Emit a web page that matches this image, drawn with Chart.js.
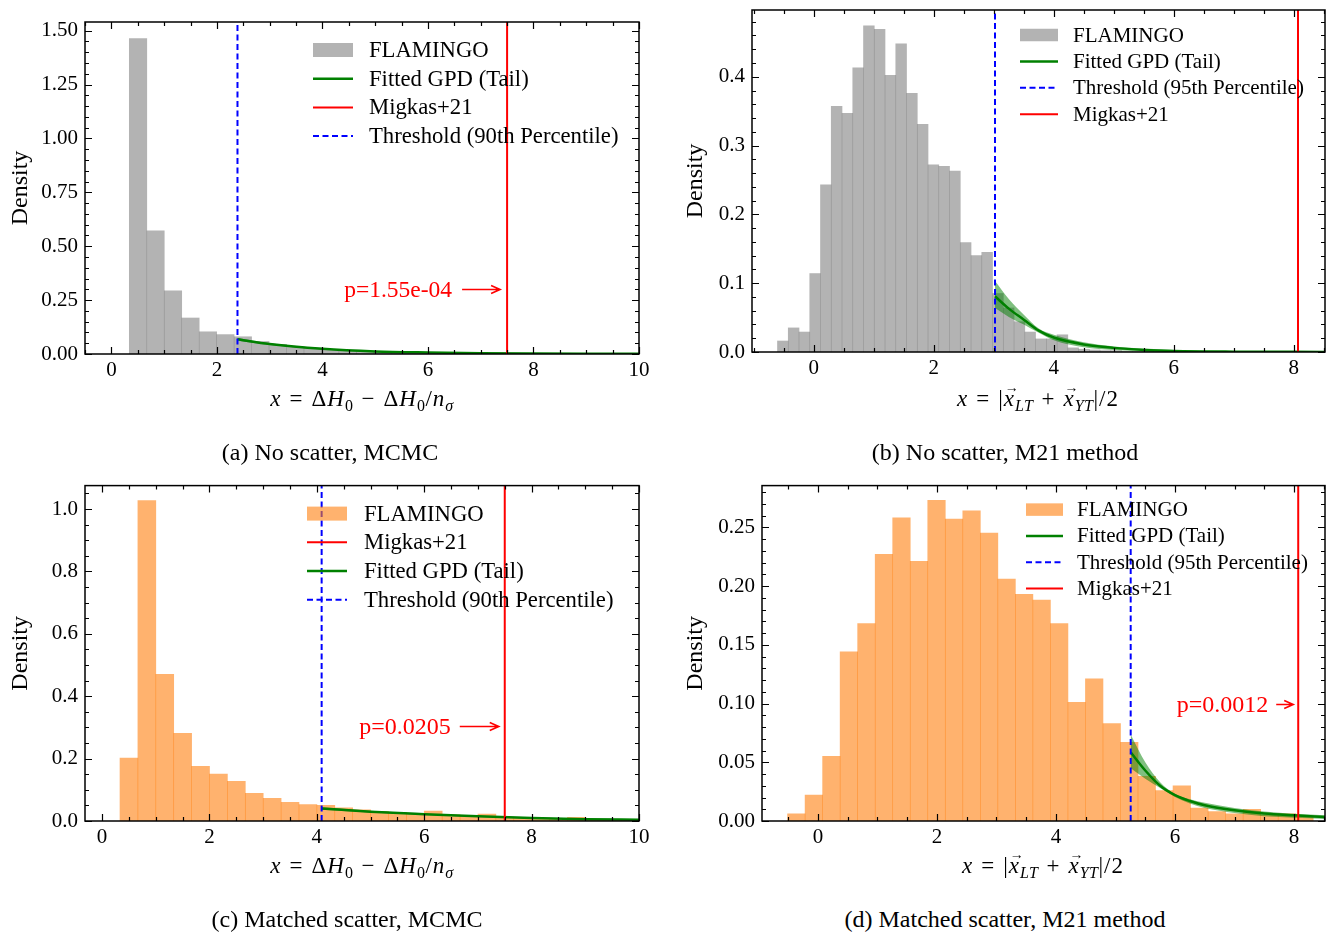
<!DOCTYPE html>
<html>
<head>
<meta charset="utf-8">
<script src="https://cdn.jsdelivr.net/npm/chart.js@4"></script>
<style>
  body { margin: 0; background: #fff; width: 1328px; height: 933px; position: relative; overflow: hidden;
         font-family: "Liberation Serif", serif; color: #000; }
  canvas { position: absolute; }
  .xt { position: absolute; font-size: 23px; line-height: 26px; transform: translateX(-50%); white-space: nowrap; letter-spacing: 1px; }
  .xt sub { font-size: 16px; vertical-align: -5px; letter-spacing: 0.5px; }
  .op { margin: 0 8px; }
  .cap { position: absolute; font-size: 24px; line-height: 26px; transform: translateX(-50%); white-space: nowrap; }
  .vec { position: relative; display: inline-block; }
  .vec::after { content: "\2192"; position: absolute; left: 1px; top: -11px; font-size: 14px; font-style: normal; }
</style>
</head>
<body>
<canvas id="chartA" width="660" height="420" style="left:0;top:0"></canvas>
<canvas id="chartB" width="660" height="432" style="left:668px;top:-12px"></canvas>
<canvas id="chartC" width="660" height="420" style="left:0;top:466px"></canvas>
<canvas id="chartD" width="660" height="420" style="left:668px;top:466px"></canvas>

<div class="xt" style="left:362px;top:386px"><i>x</i><span class="op">=</span>Δ<i>H</i><sub>0</sub><span class="op">−</span>Δ<i>H</i><sub>0</sub>/<i>n</i><sub><i>σ</i></sub></div>
<div class="xt" style="left:1038px;top:386px"><i>x</i><span class="op">=</span>|<span class="vec"><i>x</i></span><sub><i>LT</i></sub><span class="op">+</span><span class="vec"><i>x</i></span><sub><i>YT</i></sub>|/2</div>
<div class="xt" style="left:362px;top:853px"><i>x</i><span class="op">=</span>Δ<i>H</i><sub>0</sub><span class="op">−</span>Δ<i>H</i><sub>0</sub>/<i>n</i><sub><i>σ</i></sub></div>
<div class="xt" style="left:1043px;top:853px"><i>x</i><span class="op">=</span>|<span class="vec"><i>x</i></span><sub><i>LT</i></sub><span class="op">+</span><span class="vec"><i>x</i></span><sub><i>YT</i></sub>|/2</div>

<div class="cap" style="left:330px;top:439px">(a) No scatter, MCMC</div>
<div class="cap" style="left:1005px;top:439px">(b) No scatter, M21 method</div>
<div class="cap" style="left:347px;top:906px">(c) Matched scatter, MCMC</div>
<div class="cap" style="left:1005px;top:906px">(d) Matched scatter, M21 method</div>

<script>
// (a) No scatter, MCMC
var binStartA = 0.34, binWidthA = 0.331;
var densityA = [1.463, 0.571, 0.293, 0.167, 0.103, 0.090, 0.080, 0.058, 0.045, 0.033, 0.027, 0.021, 0.017, 0.014, 0.011,
                0.009, 0.007, 0.006, 0.005, 0.004, 0.003, 0.003, 0.002, 0.002, 0.001, 0.001, 0.001, 0.001, 0.001];
var gpdXA  = [2.39, 3, 4, 5, 6, 7, 8, 9, 10];
var gpdYA  = [0.068, 0.046, 0.024, 0.012, 0.007, 0.004, 0.0025, 0.0015, 0.001];
var gpdHiA = [0.074, 0.050, 0.027, 0.014, 0.008, 0.005, 0.003, 0.002, 0.0013];
var gpdLoA = [0.062, 0.042, 0.021, 0.010, 0.006, 0.003, 0.002, 0.001, 0.0007];
var thresholdA = 2.39, migkasA = 7.5;
var xTicksA = [0, 2, 4, 6, 8, 10];
var yTicksA = [0, 0.25, 0.5, 0.75, 1.0, 1.25, 1.5];

// (b) No scatter, M21 method
var binStartB = -0.605, binWidthB = 0.1792;
var densityB = [0.016, 0.035, 0.029, 0.114, 0.243, 0.357, 0.347, 0.413, 0.474, 0.469, 0.402, 0.448, 0.376, 0.331, 0.272,
                0.270, 0.263, 0.159, 0.140, 0.145, 0.085, 0.064, 0.044, 0.029, 0.019, 0.019, 0.025, 0.006, 0.004, 0.003,
                0.002, 0.002, 0.001, 0.001, 0.001];
var gpdXB  = [3.02, 3.25, 3.5, 3.75, 4.0, 4.5, 5.0, 5.5, 6.0, 7.0, 8.52];
var gpdYB  = [0.081, 0.063, 0.047, 0.031, 0.021, 0.011, 0.006, 0.003, 0.0015, 0.0005, 0.0001];
var gpdHiB = [0.103, 0.077, 0.054, 0.034, 0.025, 0.014, 0.008, 0.005, 0.003, 0.0012, 0.0004];
var gpdLoB = [0.064, 0.051, 0.040, 0.028, 0.017, 0.007, 0.003, 0.001, 0.0004, 0.0001, 0];
var thresholdB = 3.02, migkasB = 8.07;
var xTicksB = [0, 2, 4, 6, 8];
var yTicksB = [0, 0.1, 0.2, 0.3, 0.4];

// (c) Matched scatter, MCMC
var binStartC = 0.335, binWidthC = 0.3333;
var densityC = [0.202, 1.027, 0.470, 0.281, 0.175, 0.150, 0.127, 0.089, 0.073, 0.060, 0.053, 0.050, 0.042, 0.036, 0.030,
                0.028, 0.022, 0.032, 0.020, 0.018, 0.022, 0.012, 0.010, 0.009, 0.008, 0.012, 0.005, 0.004, 0.003];
var gpdXC  = [4.09, 5, 6, 7, 8, 9, 10];
var gpdYC  = [0.040, 0.030, 0.022, 0.015, 0.010, 0.006, 0.004];
var gpdHiC = [0.044, 0.033, 0.024, 0.017, 0.012, 0.008, 0.005];
var gpdLoC = [0.036, 0.027, 0.020, 0.013, 0.008, 0.005, 0.003];
var thresholdC = 4.09, migkasC = 7.5;
var xTicksC = [0, 2, 4, 6, 8, 10];
var yTicksC = [0, 0.2, 0.4, 0.6, 0.8, 1.0];

// (d) Matched scatter, M21 method
var binStartD = -0.51, binWidthD = 0.2944;
var densityD = [0.006, 0.022, 0.055, 0.144, 0.168, 0.227, 0.258, 0.221, 0.273, 0.257, 0.264, 0.245, 0.206, 0.193, 0.188,
                0.168, 0.101, 0.121, 0.083, 0.067, 0.038, 0.026, 0.030, 0.011, 0.008, 0.006, 0.010, 0.005, 0.006, 0.004];
var gpdXD  = [5.255, 5.5, 5.75, 6.0, 6.25, 6.5, 7.0, 7.5, 8.0, 8.52];
var gpdYD  = [0.0585, 0.043, 0.030, 0.022, 0.017, 0.0134, 0.0091, 0.0063, 0.0048, 0.0035];
var gpdHiD = [0.0737, 0.050, 0.033, 0.023, 0.0185, 0.0155, 0.011, 0.008, 0.0062, 0.0048];
var gpdLoD = [0.0448, 0.036, 0.028, 0.0205, 0.015, 0.011, 0.0068, 0.004, 0.0028, 0.0018];
var thresholdD = 5.255, migkasD = 8.07;
var xTicksD = [0, 2, 4, 6, 8];
var yTicksD = [0, 0.05, 0.10, 0.15, 0.20, 0.25];

Chart.defaults.font.family = '"Liberation Serif", serif';
Chart.defaults.color = '#000';

function histPoints(start, width, heights) {
    return heights.map(function (h, i) { return { x: start + (i + 0.5) * width, y: h }; });
}
function zip(xs, ys) {
    return xs.map(function (x, i) { return { x: x, y: ys[i] }; });
}
function isMajor(v, list) {
    return list.some(function (t) { return Math.abs(t - v) < 1e-6; });
}

// box frame with inward major/minor ticks on all four sides
var frameTicks = {
    id: 'frameTicks',
    afterDraw: function (chart, args, o) {
        var c = chart.ctx, a = chart.chartArea, xs = chart.scales.x, ys = chart.scales.y;
        var k, v, len, p;
        c.save();
        c.strokeStyle = '#000';
        c.lineWidth = 1.2;
        c.beginPath();
        for (k = Math.ceil(xs.min / o.xMinor - 1e-6); k * o.xMinor <= xs.max + 1e-6; k++) {
            v = k * o.xMinor;
            len = isMajor(v, o.xTicks) ? 7 : 4;
            p = Math.round(xs.getPixelForValue(v)) + 0.5;
            c.moveTo(p, a.bottom); c.lineTo(p, a.bottom - len);
            c.moveTo(p, a.top); c.lineTo(p, a.top + len);
        }
        for (k = Math.ceil(ys.min / o.yMinor - 1e-6); k * o.yMinor <= ys.max + 1e-6; k++) {
            v = k * o.yMinor;
            len = isMajor(v, o.yTicks) ? 7 : 4;
            p = Math.round(ys.getPixelForValue(v)) + 0.5;
            c.moveTo(a.left, p); c.lineTo(a.left + len, p);
            c.moveTo(a.right, p); c.lineTo(a.right - len, p);
        }
        c.stroke();
        c.lineWidth = 1.5;
        c.strokeRect(a.left, a.top, a.right - a.left, a.bottom - a.top);
        c.restore();
    }
};

// legend drawn inside the axes, no frame
var boxLegend = {
    id: 'boxLegend',
    afterDraw: function (chart, args, o) {
        var c = chart.ctx, a = chart.chartArea;
        c.save();
        c.font = o.size + 'px "Liberation Serif"';
        c.textBaseline = 'middle';
        c.textAlign = 'left';
        o.items.forEach(function (idx, i) {
            var ds = chart.data.datasets[idx];
            var x = a.left + o.left, y = a.top + o.top + i * o.row;
            if (ds.type === 'bar') {
                c.fillStyle = ds.backgroundColor;
                c.fillRect(x, y - o.boxH / 2, o.symW, o.boxH);
            } else {
                c.strokeStyle = ds.borderColor;
                c.lineWidth = ds.borderWidth;
                c.setLineDash(ds.borderDash || []);
                c.beginPath();
                c.moveTo(x, y); c.lineTo(x + o.symW, y);
                c.stroke();
                c.setLineDash([]);
            }
            c.fillStyle = '#000';
            c.fillText(ds.label, x + o.gap, y + 1);
        });
        c.restore();
    }
};

// p-value note with arrow pointing at the Migkas+21 line
var pNote = {
    id: 'pNote',
    afterDraw: function (chart, args, o) {
        if (!o.text) return;
        var c = chart.ctx, xs = chart.scales.x, ys = chart.scales.y;
        var xe = xs.getPixelForValue(o.x) - o.gapEnd;
        var xb = xe - o.arrow;
        var y = Math.round(ys.getPixelForValue(o.y)) + 0.5;
        c.save();
        c.strokeStyle = '#ff0000';
        c.fillStyle = '#ff0000';
        c.lineWidth = 1.6;
        c.beginPath();
        c.moveTo(xb, y); c.lineTo(xe, y);
        c.moveTo(xe - 9, y - 4); c.lineTo(xe, y); c.lineTo(xe - 9, y + 4);
        c.stroke();
        c.font = o.size + 'px "Liberation Serif"';
        c.textAlign = 'right';
        c.textBaseline = 'middle';
        c.fillText(o.text, xb - o.gapText, y + 1);
        c.restore();
    }
};

function buildPanel(id, p) {
    var ctx = document.getElementById(id).getContext('2d');
    var tickFont = { family: '"Liberation Serif", serif', size: 21 };
    return new Chart(ctx, {
        type: 'bar',
        data: {
            datasets: [{
                type: 'bar',
                label: 'FLAMINGO',
                data: histPoints(p.binStart, p.binWidth, p.density),
                backgroundColor: p.barColor,
                borderWidth: 0,
                barPercentage: 1,
                categoryPercentage: 1,
                order: 10
            }, {
                type: 'line',
                label: 'GPD upper',
                data: zip(p.gpdX, p.gpdHi),
                borderColor: 'rgba(0,0,0,0)',
                pointRadius: 0,
                fill: false,
                cubicInterpolationMode: 'monotone',
                order: 9
            }, {
                type: 'line',
                label: 'GPD lower',
                data: zip(p.gpdX, p.gpdLo),
                borderColor: 'rgba(0,0,0,0)',
                backgroundColor: 'rgba(0, 128, 0, 0.5)',
                pointRadius: 0,
                fill: '-1',
                cubicInterpolationMode: 'monotone',
                order: 9
            }, {
                type: 'line',
                label: 'Fitted GPD (Tail)',
                data: zip(p.gpdX, p.gpdY),
                borderColor: '#008000',
                borderWidth: 2.5,
                pointRadius: 0,
                fill: false,
                cubicInterpolationMode: 'monotone',
                order: 8
            }, {
                type: 'line',
                label: p.thresholdLabel,
                data: [{ x: p.threshold, y: 0 }, { x: p.threshold, y: p.yMax }],
                borderColor: '#0000ff',
                borderWidth: 2,
                borderDash: [6, 3.5],
                pointRadius: 0,
                fill: false,
                order: 7
            }, {
                type: 'line',
                label: 'Migkas+21',
                data: [{ x: p.migkas, y: 0 }, { x: p.migkas, y: p.yMax }],
                borderColor: '#ff0000',
                borderWidth: 2,
                pointRadius: 0,
                fill: false,
                order: 6
            }]
        },
        options: {
            responsive: false,
            animation: false,
            events: [],
            layout: { padding: { top: p.padTop, right: p.padRight, left: 0, bottom: 0 } },
            plugins: {
                legend: { display: false },
                tooltip: { enabled: false },
                frameTicks: { xTicks: p.xTicks, yTicks: p.yTicks, xMinor: 0.5, yMinor: p.yMinor },
                boxLegend: p.legend,
                pNote: p.note
            },
            scales: {
                x: {
                    type: 'linear',
                    min: p.xMin,
                    max: p.xMax,
                    offset: false,
                    grid: { display: false, drawTicks: false },
                    border: { display: false },
                    ticks: { font: tickFont, color: '#000', padding: 4, maxRotation: 0, autoSkip: false,
                             callback: function (v) { return String(v); } },
                    afterBuildTicks: function (s) { s.ticks = p.xTicks.map(function (v) { return { value: v }; }); },
                    afterFit: function (s) { s.height = p.xH; }
                },
                y: {
                    type: 'linear',
                    min: 0,
                    max: p.yMax,
                    grid: { display: false, drawTicks: false },
                    border: { display: false },
                    ticks: { font: tickFont, color: '#000', padding: 7,
                             callback: function (v) { return Number(v).toFixed(p.yDec); } },
                    title: { display: true, text: 'Density', color: '#000',
                             font: { family: '"Liberation Serif", serif', size: 24 },
                             padding: { top: p.titlePad, bottom: 0 } },
                    afterBuildTicks: function (s) { s.ticks = p.yTicks.map(function (v) { return { value: v }; }); },
                    afterFit: function (s) { s.width = p.yW; }
                }
            }
        },
        plugins: [frameTicks, boxLegend, pNote]
    });
}

var grey = 'rgba(128, 128, 128, 0.6)';
var orange = 'rgba(255, 127, 14, 0.6)';

buildPanel('chartA', {
    binStart: binStartA, binWidth: binWidthA, density: densityA, barColor: grey,
    gpdX: gpdXA, gpdY: gpdYA, gpdHi: gpdHiA, gpdLo: gpdLoA,
    threshold: thresholdA, migkas: migkasA, thresholdLabel: 'Threshold (90th Percentile)',
    xTicks: xTicksA, yTicks: yTicksA, yMinor: 0.05, yDec: 2,
    xMin: -0.5, xMax: 10, yMax: 1.54,
    padTop: 22, padRight: 21, yW: 85, xH: 66, titlePad: 6,
    legend: { items: [0, 3, 5, 4], left: 228, top: 28, row: 28.7, size: 22.7, symW: 40, boxH: 14, gap: 56 },
    note: { text: 'p=1.55e-04', x: migkasA, y: 0.30, arrow: 38, gapEnd: 7, gapText: 10, size: 23.5 }
});

buildPanel('chartB', {
    binStart: binStartB, binWidth: binWidthB, density: densityB, barColor: grey,
    gpdX: gpdXB, gpdY: gpdYB, gpdHi: gpdHiB, gpdLo: gpdLoB,
    threshold: thresholdB, migkas: migkasB, thresholdLabel: 'Threshold (95th Percentile)',
    xTicks: xTicksB, yTicks: yTicksB, yMinor: 0.02, yDec: 1,
    xMin: -1.03, xMax: 8.52, yMax: 0.497,
    padTop: 22, padRight: 3, yW: 84, xH: 68, titlePad: 13,
    legend: { items: [0, 3, 4, 5], left: 268, top: 25, row: 26.4, size: 21, symW: 38, boxH: 12.5, gap: 53 },
    note: {}
});

buildPanel('chartC', {
    binStart: binStartC, binWidth: binWidthC, density: densityC, barColor: orange,
    gpdX: gpdXC, gpdY: gpdYC, gpdHi: gpdHiC, gpdLo: gpdLoC,
    threshold: thresholdC, migkas: migkasC, thresholdLabel: 'Threshold (90th Percentile)',
    xTicks: xTicksC, yTicks: yTicksC, yMinor: 0.05, yDec: 1,
    xMin: -0.317, xMax: 10, yMax: 1.075,
    padTop: 19, padRight: 21, yW: 85, xH: 65, titlePad: 6,
    legend: { items: [0, 5, 3, 4], left: 222, top: 28, row: 28.7, size: 22.7, symW: 40, boxH: 14, gap: 57 },
    note: { text: 'p=0.0205', x: migkasC, y: 0.305, arrow: 39, gapEnd: 6, gapText: 9, size: 24 }
});

buildPanel('chartD', {
    binStart: binStartD, binWidth: binWidthD, density: densityD, barColor: orange,
    gpdX: gpdXD, gpdY: gpdYD, gpdHi: gpdHiD, gpdLo: gpdLoD,
    threshold: thresholdD, migkas: migkasD, thresholdLabel: 'Threshold (95th Percentile)',
    xTicks: xTicksD, yTicks: yTicksD, yMinor: 0.01, yDec: 2,
    xMin: -0.94, xMax: 8.52, yMax: 0.2855,
    padTop: 19, padRight: 3, yW: 94, xH: 65, titlePad: 13,
    legend: { items: [0, 3, 4, 5], left: 264, top: 24, row: 26.3, size: 21, symW: 37, boxH: 12.5, gap: 51 },
    note: { text: 'p=0.0012', x: migkasD, y: 0.100, arrow: 17, gapEnd: 5, gapText: 8, size: 24 }
});
</script>
</body>
</html>
